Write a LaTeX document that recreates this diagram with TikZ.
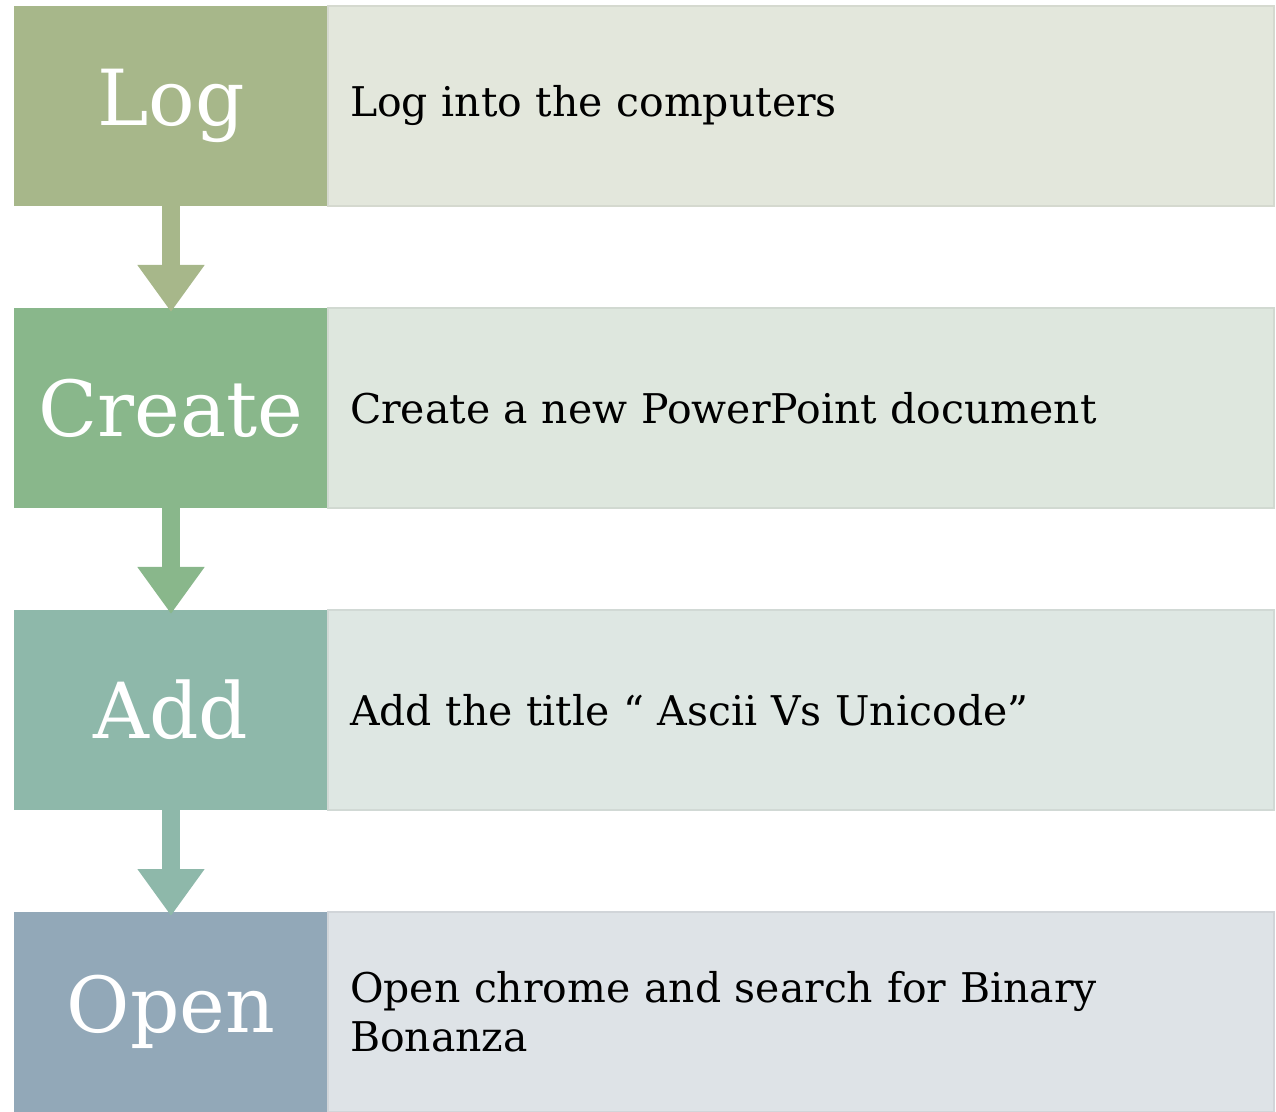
\documentclass[tikz,border=0pt]{standalone}
\usepackage{fontspec}
\setmainfont{DejaVu Serif}
\usepackage{tikz}
\usetikzlibrary{positioning,arrows.meta}
\usepackage{xcolor}
\definecolor{logcolor}{HTML}{A7B78A}
\definecolor{createcolor}{HTML}{89B78B}
\definecolor{addcolor}{HTML}{8EB8AA}
\definecolor{opencolor}{HTML}{92A8B8}
\definecolor{loglight}{HTML}{E3E7DC}
\definecolor{createlight}{HTML}{DEE7DE}
\definecolor{addlight}{HTML}{DEE7E3}
\definecolor{openlight}{HTML}{DEE3E7}

\begin{document}
\begin{tikzpicture}[
    stepbox/.style={rectangle, minimum width=6.28cm, minimum height=4cm, outer sep=0pt, inner sep=0pt, text=white, font=\fontsize{44}{50}\selectfont},
    descbox/.style={rectangle, draw=#1!94!black, line width=0.6pt, fill=#1, minimum height=4cm, outer sep=0pt, inner xsep=0.44cm, text width=18.04cm, align=left, font=\fontsize{23.3}{28}\selectfont},
    flow/.style={line width=0.36cm, -{Triangle[width=1.28cm, length=0.94cm]}, shorten >=-0.08cm}
]
    \useasboundingbox (0,0) rectangle (25.52,22.22);

    % Log
    \node[stepbox, fill=logcolor] (log) at (3.42,20.1) {\raisebox{-0.1cm}{Log}};
    \node[descbox=loglight, right=0pt of log] (logtxt) {\raisebox{-0.05cm}{Log into the computers}};

    % Create
    \node[stepbox, fill=createcolor, below=2.04cm of log] (create) {Create};
    \node[descbox=createlight, right=0pt of create] (createtxt) {Create a new PowerPoint document};

    % Add
    \node[stepbox, fill=addcolor, below=2.04cm of create] (add) {Add};
    \node[descbox=addlight, right=0pt of add] (addtxt) {Add the title “ Ascii Vs Unicode”};

    % Open
    \node[stepbox, fill=opencolor, below=2.04cm of add] (open) {Open};
    \node[descbox=openlight, right=0pt of open] (opentxt) {Open chrome and search for Binary\\Bonanza};

    % Arrows between steps
    \draw[flow, logcolor] (log) -- (create);
    \draw[flow, createcolor] (create) -- (add);
    \draw[flow, addcolor] (add) -- (open);
\end{tikzpicture}
\end{document}
